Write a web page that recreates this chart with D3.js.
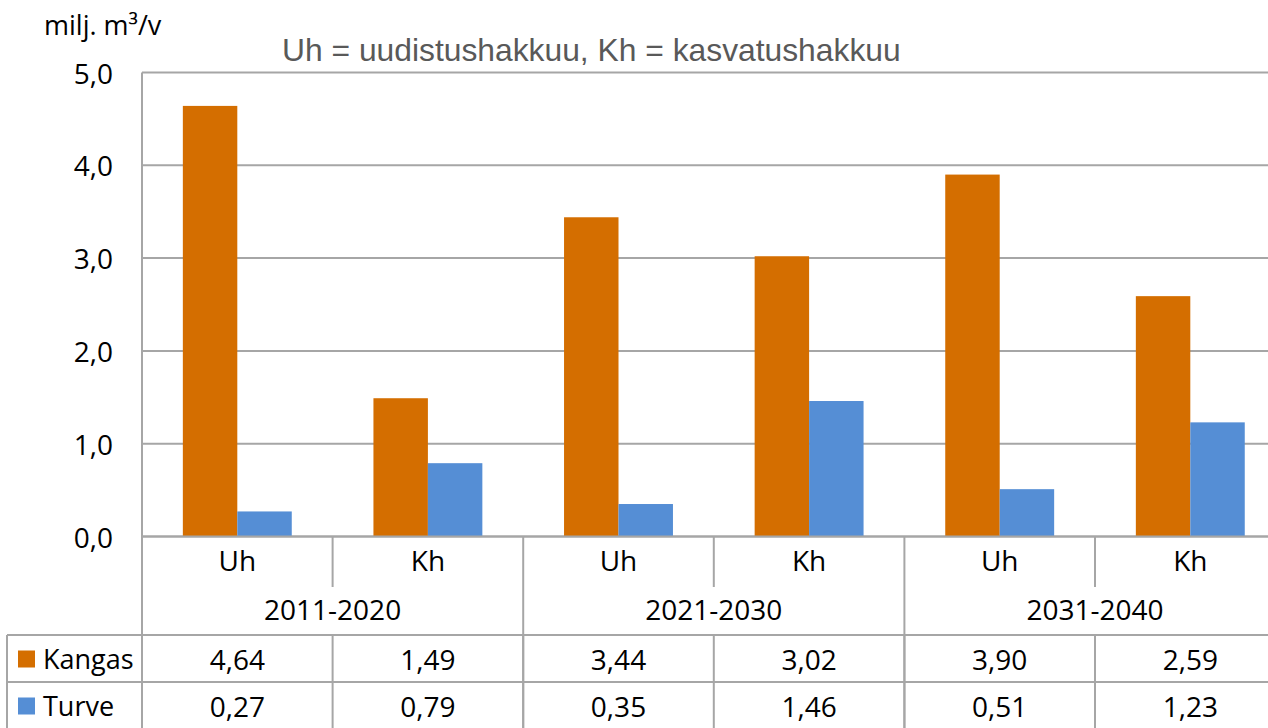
<!DOCTYPE html>
<html>
<head>
<meta charset="utf-8">
<script src="https://cdn.jsdelivr.net/npm/d3@7"></script>
<style>
  body { margin: 0; background: #fff; }
  svg { display: block; }
  text { font-family: "Open Sans", "Noto Sans", sans-serif; fill: #000; }
</style>
</head>
<body>
<svg></svg>
<script>
var svg_width = 1268;
var svg_height = 728;

// data
var periods = ['2011-2020', '2021-2030', '2031-2040'];
var cut_types = ['Uh', 'Kh'];
var series_names = ['Kangas', 'Turve'];
var kangas = [4.64, 1.49, 3.44, 3.02, 3.90, 2.59];
var turve = [0.27, 0.79, 0.35, 1.46, 0.51, 1.23];
var y_ticks = [0, 1, 2, 3, 4, 5];
var colors = ['#d46e00', '#558ed5'];

var grid_color = '#a6a6a6';

var locale = d3.formatLocale({decimal: ',', thousands: ' ', grouping: [3], currency: ['', '']});
var fmt1 = locale.format('.1f');
var fmt2 = locale.format('.2f');

// one row per subcategory
var rows = [];
periods.forEach(function(p, pi)  {
  cut_types.forEach(function(c, ci)  {
    var i = pi * cut_types.length + ci;
    rows.push({'key': i, 'period': p, 'cut': c, 'values': [kangas[i], turve[i]]});
  });
});

var plot_left = 142;
var plot_top = 72.5;
var plot_bottom = 536.5;
var step = 190.6;
var plot_right = plot_left + step * rows.length;

var xScale = d3.scaleBand()
  .domain(rows.map(function(d) {return d.key;}))
  .range([plot_left, plot_right])
  .padding(0);

var xInner = d3.scaleBand()
  .domain([0, 1])
  .range([0, xScale.bandwidth()])
  .paddingInner(0)
  .paddingOuter(0.75);

var yScale = d3.scaleLinear().domain([0, 5]).range([plot_bottom, plot_top]);

var svg = d3.select('svg')
  .attr('width', svg_width)
  .attr('height', svg_height);

// gridlines
svg.append('g')
  .selectAll('line')
  .data(y_ticks)
  .enter()
  .append('line')
  .attr('x1', plot_left)
  .attr('x2', plot_right)
  .attr('y1', function(d) {return yScale(d);})
  .attr('y2', function(d) {return yScale(d);})
  .attr('stroke', grid_color)
  .attr('stroke-width', 2);

// y tick labels
svg.append('g')
  .selectAll('text')
  .data(y_ticks)
  .enter()
  .append('text')
  .attr('x', 113)
  .attr('y', function(d) {return yScale(d);})
  .attr('text-anchor', 'end')
  .attr('dominant-baseline', 'central')
  .style('font-size', '28px')
  .text(function(d) {return fmt1(d);});

// bars
var groups = svg.append('g')
  .selectAll('g')
  .data(rows)
  .enter()
  .append('g')
  .attr('transform', function(d) {return 'translate(' + xScale(d.key) + ',0)';});

groups.selectAll('rect')
  .data(function(d) {return d.values;})
  .enter()
  .append('rect')
  .attr('x', function(d, i) {return xInner(i);})
  .attr('width', xInner.bandwidth())
  .attr('y', function(d) {return yScale(d);})
  .attr('height', function(d) {return yScale(0) - yScale(d);})
  .attr('fill', function(d, i) {return colors[i];});

// redraw the baseline over bars
svg.append('line')
  .attr('x1', plot_left).attr('x2', plot_right)
  .attr('y1', yScale(0)).attr('y2', yScale(0))
  .attr('stroke', grid_color).attr('stroke-width', 2);

// left axis line, runs through the table
svg.append('line')
  .attr('x1', plot_left).attr('x2', plot_left)
  .attr('y1', plot_top).attr('y2', svg_height)
  .attr('stroke', grid_color).attr('stroke-width', 2);

var table_top = 635;
var row_h = 47;

// category separators
var seps = rows.slice(1).map(function(d) {return d.key;});
svg.append('g')
  .selectAll('line')
  .data(seps)
  .enter()
  .append('line')
  .attr('x1', function(d) {return xScale(d);})
  .attr('x2', function(d) {return xScale(d);})
  .attr('y1', yScale(0))
  .attr('y2', function(d) {return d % cut_types.length == 0 ? svg_height : 587;})
  .attr('stroke', grid_color)
  .attr('stroke-width', 2);

// table vertical lines within the table rows
svg.append('g')
  .selectAll('line')
  .data(seps)
  .enter()
  .append('line')
  .attr('x1', function(d) {return xScale(d);})
  .attr('x2', function(d) {return xScale(d);})
  .attr('y1', table_top)
  .attr('y2', svg_height)
  .attr('stroke', grid_color)
  .attr('stroke-width', 2);

// cut type labels
svg.append('g')
  .selectAll('text')
  .data(rows)
  .enter()
  .append('text')
  .attr('x', function(d) {return xScale(d.key) + xScale.bandwidth() / 2;})
  .attr('y', 560)
  .attr('text-anchor', 'middle')
  .attr('dominant-baseline', 'central')
  .style('font-size', '28px')
  .text(function(d) {return d.cut;});

// period labels
svg.append('g')
  .selectAll('text')
  .data(periods)
  .enter()
  .append('text')
  .attr('x', function(d, i) {return xScale(i * cut_types.length) + xScale.bandwidth();})
  .attr('y', 609)
  .attr('text-anchor', 'middle')
  .attr('dominant-baseline', 'central')
  .style('font-size', '28px')
  .text(function(d) {return d;});

// data table horizontal lines
svg.append('g')
  .selectAll('line')
  .data([0, 1])
  .enter()
  .append('line')
  .attr('x1', 7)
  .attr('x2', plot_right)
  .attr('y1', function(d) {return table_top + d * row_h;})
  .attr('y2', function(d) {return table_top + d * row_h;})
  .attr('stroke', grid_color)
  .attr('stroke-width', 2);

svg.append('line')
  .attr('x1', 7).attr('x2', 7)
  .attr('y1', table_top).attr('y2', svg_height)
  .attr('stroke', grid_color).attr('stroke-width', 2);

// legend keys and series names
var series_rows = svg.append('g')
  .selectAll('g')
  .data(series_names)
  .enter()
  .append('g')
  .attr('transform', function(d, i) {return 'translate(0,' + (table_top + i * row_h) + ')';});

series_rows.append('rect')
  .attr('x', 18)
  .attr('y', row_h / 2 - 8)
  .attr('width', 17)
  .attr('height', 17)
  .attr('fill', function(d, i) {return colors[i];});

series_rows.append('text')
  .attr('x', 43)
  .attr('y', row_h / 2)
  .attr('dominant-baseline', 'central')
  .style('font-size', '27px')
  .text(function(d) {return d;});

// table values
series_rows.each(function(s, si)  {
  d3.select(this).selectAll('text.val')
    .data(rows)
    .enter()
    .append('text')
    .attr('class', 'val')
    .attr('x', function(d) {return xScale(d.key) + xScale.bandwidth() / 2;})
    .attr('y', row_h / 2)
    .attr('text-anchor', 'middle')
    .attr('dominant-baseline', 'central')
    .style('font-size', '28px')
    .text(function(d) {return fmt2(d.values[si]);});
});

// unit label and title
svg.append('text')
  .attr('x', 44)
  .attr('y', 24)
  .attr('dominant-baseline', 'central')
  .style('font-size', '27px')
  .text('milj. m³/v');

svg.append('text')
  .attr('x', 282)
  .attr('y', 50)
  .attr('dominant-baseline', 'central')
  .style('font-family', '"Liberation Sans", Arial, sans-serif')
  .style('font-size', '31.8px')
  .style('fill', '#595959')
  .text('Uh = uudistushakkuu, Kh = kasvatushakkuu');
</script>
</body>
</html>
